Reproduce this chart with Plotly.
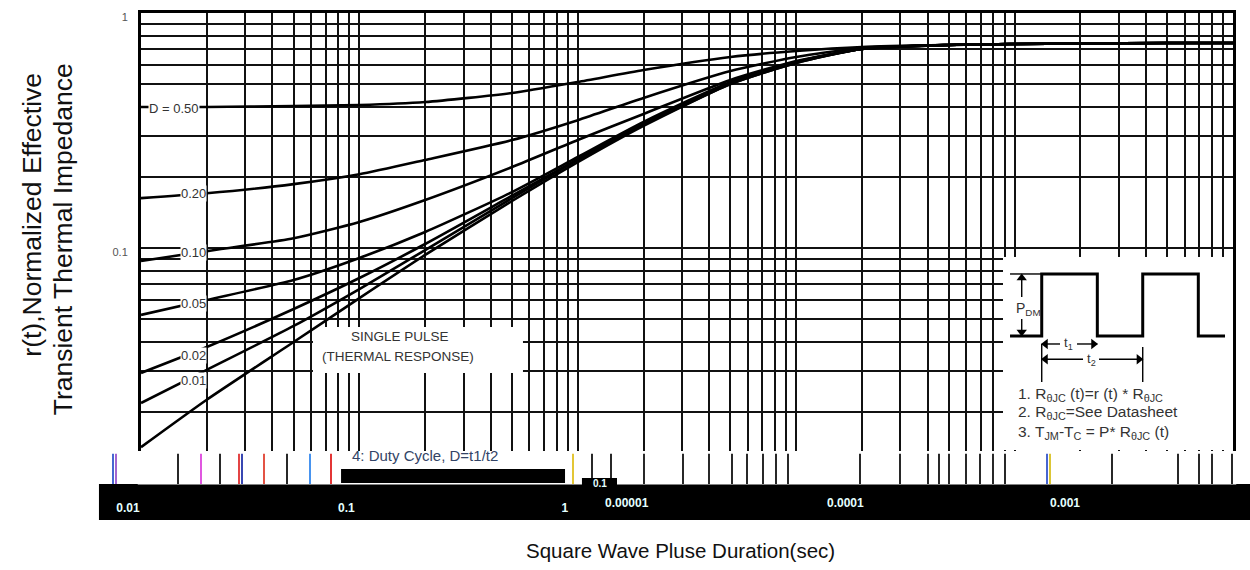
import plotly.graph_objects as go

# ---------------- data ----------------
t_sec = [0.01, 0.02, 0.05, 0.1, 0.2, 0.5, 1, 2, 5, 10, 20, 50, 100, 200, 500, 1000]

r_d050 = [0.398, 0.398, 0.402, 0.406, 0.418, 0.457, 0.509, 0.572, 0.650, 0.689, 0.717, 0.731, 0.738, 0.742, 0.745, 0.745]
r_d020 = [0.163, 0.171, 0.187, 0.206, 0.237, 0.288, 0.350, 0.435, 0.566, 0.650, 0.710, 0.731, 0.738, 0.742, 0.745, 0.745]
r_d010 = [0.088, 0.097, 0.110, 0.129, 0.160, 0.221, 0.288, 0.372, 0.519, 0.625, 0.703, 0.731, 0.738, 0.742, 0.745, 0.745]
r_d005 = [0.0519, 0.0601, 0.0731, 0.0907, 0.117, 0.173, 0.244, 0.344, 0.509, 0.619, 0.703, 0.731, 0.738, 0.742, 0.745, 0.745]
r_d002 = [0.0294, 0.0379, 0.0550, 0.0745, 0.104, 0.167, 0.239, 0.337, 0.504, 0.619, 0.703, 0.731, 0.738, 0.742, 0.745, 0.745]
r_d001 = [0.0219, 0.0303, 0.0466, 0.0669, 0.098, 0.163, 0.237, 0.334, 0.499, 0.613, 0.703, 0.731, 0.738, 0.742, 0.745, 0.745]
r_single = [0.0142, 0.0226, 0.0398, 0.0612, 0.0934, 0.1585, 0.232, 0.331, 0.499, 0.613, 0.703, 0.731, 0.738, 0.742, 0.745, 0.745]

series = [r_d050, r_d020, r_d010, r_d005, r_d002, r_d001, r_single]
curve_labels = ["D = 0.50", "0.20", "0.10", "0.05", "0.02", "0.01"]

x_tick_vals = [0.01, 0.1, 1]
x_tick_text = ["0.01", "0.1", "1"]
extra_bar_labels = ["0.00001", "0.0001", "0.001"]
y_tick_vals = [0.1, 1]
y_tick_text = ["0.1", "1"]

# inset schematic (arbitrary schematic units)
pulse_x = [7, 38.7, 38.7, 94.3, 94.3, 139.7, 139.7, 195.3, 195.3, 222]
pulse_y = [79, 79, 17, 17, 79, 79, 17, 17, 79, 79]
notes = ["1. R<sub>θJC</sub> (t)=r (t) * R<sub>θJC</sub>",
         "2. R<sub>θJC</sub>=See Datasheet",
         "3. T<sub>JM</sub>-T<sub>C</sub> = P* R<sub>θJC</sub> (t)"]

FONT = "Liberation Sans, Arial, sans-serif"
GRID = "#111"
GW = 1.8

fig = go.Figure()
for ys in series:
    fig.add_trace(go.Scatter(x=t_sec, y=ys, mode="lines",
                             line=dict(color="#000", width=2.6, shape="spline", smoothing=0.6),
                             hoverinfo="skip", showlegend=False))

# ---- inset schematic traces ----
fig.add_trace(go.Scatter(x=pulse_x, y=pulse_y, mode="lines", xaxis="x2", yaxis="y2",
                         line=dict(color="#000", width=3), showlegend=False, hoverinfo="skip"))
# extension / dimension lines and arrow shafts
seg_x = [pulse_x[0], pulse_x[1], None, pulse_x[1], pulse_x[1], None, pulse_x[5], pulse_x[5], None,
         18.7, 18.7, None, 18.7, 18.7, None, 38.7, 57, None, 74, 94.3, None, 38.7, 80, None, 96, 139.7]
seg_y = [pulse_y[2], pulse_y[2], None, 87, 125, None, 90, 125, None,
         19, 40, None, 62, 77, None, 87, 87, None, 87, 87, None, 102.3, 102.3, None, 102.3, 102.3]
fig.add_trace(go.Scatter(x=seg_x, y=seg_y, mode="lines", xaxis="x2", yaxis="y2",
                         line=dict(color="#000", width=1.4), showlegend=False, hoverinfo="skip"))
# arrow heads
fig.add_trace(go.Scatter(x=[18.7, 18.7, 42.5, 90.5, 42.5, 135.9],
                         y=[21, 75, 87, 87, 102.3, 102.3], mode="markers", xaxis="x2", yaxis="y2",
                         marker=dict(symbol=["triangle-up", "triangle-down", "triangle-left",
                                             "triangle-right", "triangle-left", "triangle-right"],
                                     size=9, color="#000", line=dict(width=0)),
                         showlegend=False, hoverinfo="skip"))

# minor grid positions for the log axes (all other 1..9 multiples)
x_minor = [m * 10 ** e for e in range(-2, 3) for m in range(1, 10)] + [1000]
x_minor = [v for v in x_minor if not any(abs(v - k) < 1e-12 for k in x_tick_vals)]
y_minor = [m * 10 ** e for e in (-2, -1) for m in range(1, 10)]
y_minor = [v for v in y_minor if not any(abs(v - k) < 1e-12 for k in y_tick_vals)]

fig.update_layout(
    width=1250, height=570,
    margin=dict(l=141, r=17, t=13, b=87, autoexpand=False),
    paper_bgcolor="white", plot_bgcolor="white",
    font=dict(family=FONT, color="#222"),
    xaxis=dict(type="log", range=[-2, 3], tickmode="array", tickvals=x_tick_vals, ticktext=x_tick_text,
               showgrid=True, gridcolor=GRID, gridwidth=GW, ticks="",
               minor=dict(tickmode="array", tickvals=x_minor, showgrid=True, gridcolor=GRID,
                          gridwidth=GW, ticks=""),
               showline=True, linecolor="#000", linewidth=2.5, mirror=True,
               tickfont=dict(size=12, color="#e4ffff", family=FONT, weight="bold"),
               ticklabelshift=-13, ticklabelstandoff=12, zeroline=False),
    yaxis=dict(type="log", range=[-2, 0], tickmode="array", tickvals=y_tick_vals, ticktext=y_tick_text,
               showgrid=True, gridcolor=GRID, gridwidth=GW, ticks="",
               minor=dict(tickmode="array", tickvals=y_minor, showgrid=True, gridcolor=GRID,
                          gridwidth=GW, ticks=""),
               showline=True, linecolor="#000", linewidth=3, mirror=True,
               tickfont=dict(size=11, color="#555", family=FONT),
               ticklabelstandoff=8, ticklabelshift=4, zeroline=False),
    xaxis2=dict(domain=[0.7894, 0.9991], range=[0, 229], anchor="y2", visible=False, fixedrange=True),
    yaxis2=dict(domain=[0.0702, 0.4809], range=[193, 0], anchor="x2", visible=False, fixedrange=True),
)

shapes = [
    # inset white panel (covers grid, under traces) - data coords on the log axes
    dict(type="rect", xref="x", yref="y", x0=88.5, x1=1000, y0=0.01381, y1=0.0916,
         fillcolor="white", line=dict(width=0), layer="between"),
    # single-pulse white label box
    dict(type="rect", xref="x", yref="y", x0=0.0613, x1=0.561, y0=0.02938, y1=0.04611,
         fillcolor="white", line=dict(width=0), layer="between"),
    # bottom black band (below tick labels)
    dict(type="rect", xref="paper", yref="paper", x0=-0.0385, x1=1.0156, y0=-0.0787, y1=-0.002,
         fillcolor="#000", line=dict(width=0), layer="below"),
    # white strip over bottom of the plot
    dict(type="rect", xref="paper", yref="paper", x0=-0.003, x1=1.003, y0=-0.003, y1=0.068,
         fillcolor="white", line=dict(width=0), layer="above"),
]

# decorative broken-scan stubs in the white strip (pixel x, colour)
stubs = [(113, "#3355cc"), (116, "#9955cc"), (178, "#111"), (201, "#dd44dd"), (220, "#111"),
         (239, "#e03030"), (242, "#2233aa"), (264, "#e04030"), (287, "#111"), (310, "#3388ee"),
         (331, "#e02020"), (573, "#e0c020"), (592, "#111"), (611, "#111"), (644, "#111"),
         (683, "#111"), (709, "#111"), (732, "#111"), (747, "#111"), (763, "#111"), (776, "#111"),
         (788, "#111"), (860, "#111"), (900, "#111"), (928, "#111"), (939, "#111"), (949, "#111"),
         (966, "#111"), (980, "#111"), (993, "#111"), (1005, "#111"), (1047, "#3355cc"),
         (1050, "#d8c020"), (1112, "#111"), (1178, "#111"), (1199, "#111"), (1212, "#111"), (1232, "#111")]
for px, col in stubs:
    xp = (px - 141) / 1092
    shapes.append(dict(type="line", xref="paper", yref="paper", x0=xp, x1=xp, y0=-0.002, y1=0.062,
                       line=dict(color=col, width=1.8), layer="above"))

shapes += [
    # small black bar
    dict(type="rect", xref="paper", yref="paper", x0=0.1832, x1=0.3883, y0=0.0, y1=0.0298,
         fillcolor="#000", line=dict(width=0), layer="above"),
    # notch
    dict(type="rect", xref="paper", yref="paper", x0=0.4038, x1=0.4359, y0=-0.006, y1=0.0106,
         fillcolor="#000", line=dict(width=0), layer="above"),
]
fig.update_layout(shapes=shapes)

C = dict(xanchor="center", yanchor="middle", showarrow=False)
ann = []
# curve labels
lab_pos = [(0.0302, 0.7972), (0.0481, 0.6164), (0.0481, 0.49), (0.0481, 0.3809), (0.0481, 0.2723), (0.0481, 0.2191)]
for (lx, ly), txt in zip(lab_pos, curve_labels):
    ann.append(dict(C, xref="x domain", yref="y domain", x=lx, y=ly, text=txt,
                    font=dict(size=13, color="#333", family=FONT), bgcolor="white", borderpad=0))
ann.append(dict(C, xref="x domain", yref="y domain", x=0.2372, y=0.3113, text="SINGLE PULSE",
                font=dict(size=13.5, color="#333", family=FONT)))
ann.append(dict(C, xref="x domain", yref="y domain", x=0.2353, y=0.2687, text="(THERMAL RESPONSE)",
                font=dict(size=13.5, color="#333", family=FONT)))

# bottom band labels
for xp, txt in zip([0.4451, 0.6447, 0.8462], extra_bar_labels):
    ann.append(dict(C, xref="paper", yref="paper", x=xp, y=-0.0426, text=txt,
                    font=dict(size=12, color="#e4ffff", family=FONT, weight="bold")))
ann.append(dict(C, xref="paper", yref="paper", x=0.4203, y=-0.001, text="0.1",
                font=dict(size=10, color="#e4ffff", family=FONT, weight="bold")))
ann.append(dict(C, xref="paper", yref="paper", x=0.2601, y=0.059, text="4: Duty Cycle, D=t1/t2",
                font=dict(size=15, color="#334466", family=FONT)))

# axis titles
ann.append(dict(C, xref="paper", yref="paper", x=0.4936, y=-0.1426, text="Square Wave Pluse Duration(sec)",
                font=dict(size=20.5, color="#111", family=FONT)))
ann.append(dict(C, xref="paper", yref="paper", x=-0.1001, y=0.5702, text="r(t),Normalized Effective",
                textangle=-90, font=dict(size=26.5, color="#111", family=FONT)))
ann.append(dict(C, xref="paper", yref="paper", x=-0.0712, y=0.5191, text="Transient Thermal Impedance",
                textangle=-90, font=dict(size=26.5, color="#111", family=FONT)))

# inset labels
ann.append(dict(C, xref="x2", yref="y2", x=25, y=52, text="P<sub>DM</sub>",
                font=dict(size=14, color="#333", family=FONT)))
ann.append(dict(C, xref="x2", yref="y2", x=65.5, y=87, text="t<sub>1</sub>",
                font=dict(size=13, color="#333", family=FONT)))
ann.append(dict(C, xref="x2", yref="y2", x=88, y=102.3, text="t<sub>2</sub>",
                font=dict(size=13, color="#333", family=FONT)))
for yy, txt in zip([138, 156, 175.7], notes):
    ann.append(dict(C, xref="x2", yref="y2", x=13, y=yy, text=txt, xanchor="left",
                    font=dict(size=15.5, color="#333", family=FONT)))

fig.update_layout(annotations=ann)
fig.write_html("out.html")
